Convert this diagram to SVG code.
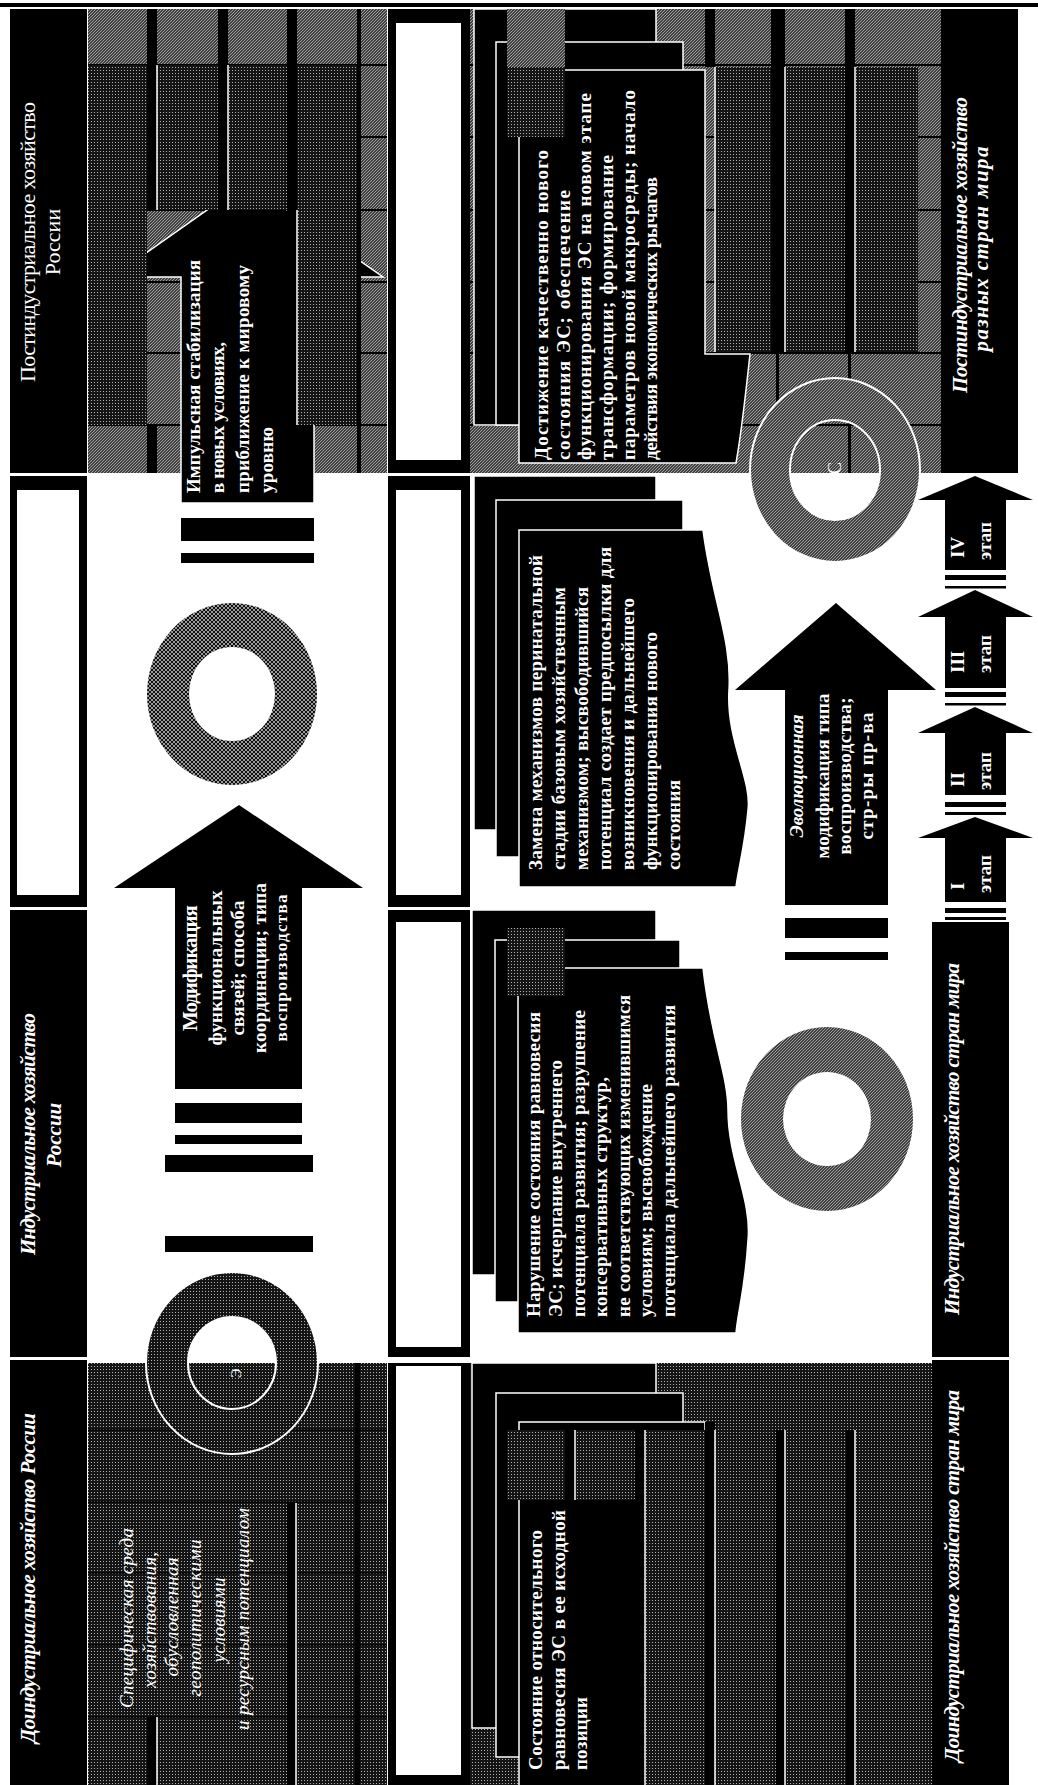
<svg xmlns="http://www.w3.org/2000/svg" width="1038" height="1785" viewBox="0 0 1038 1785">
<defs>
<pattern id="hatch" width="3" height="3" patternUnits="userSpaceOnUse">
<rect width="3" height="3" fill="#141414"/>
<path d="M-1,1 L1,-1 M0,3 L3,0 M2,4 L4,2" stroke="#a8a8a8" stroke-width="1.1"/>
</pattern>
<pattern id="xhatch" width="4" height="4" patternUnits="userSpaceOnUse">
<rect width="4" height="4" fill="#111"/>
<path d="M-1,1 L1,-1 M0,4 L4,0 M3,5 L5,3 M-1,3 L1,5 M0,0 L4,4 M3,-1 L5,1" stroke="#a8a8a8" stroke-width="0.9"/>
</pattern>
<pattern id="dots" width="3" height="3" patternUnits="userSpaceOnUse">
<rect width="3" height="3" fill="#151515"/>
<rect x="1" y="1" width="1" height="1" fill="#b0b0b0"/>
</pattern>
</defs>
<style>
.blk{fill:#000}
.wht{fill:#fff}
.box{fill:#000;stroke:#fff;stroke-width:1.5}
.wl{stroke:#fff;stroke-width:1.5;fill:none}
.gl{stroke:#000;stroke-width:2;fill:none}
.hat{fill:url(#hatch)}
.xh{fill:url(#xhatch)}
.dot{fill:url(#dots)}
text{fill:#fff;font-family:"Liberation Serif","DejaVu Serif",serif}
.bt{font-size:19px;font-weight:bold}
.hd{font-size:21px;font-weight:bold;font-style:italic}
.hr{font-size:22px}
.it{font-size:19px;font-style:italic}
.bi{font-size:19px;font-weight:bold;font-style:italic}
.st{font-size:19px;font-weight:bold}
.c{text-anchor:middle}
</style>

<rect x="0" y="3" width="1038" height="4" class="blk"/>

<!-- left header column -->
<g id="hdr-post-russia">
<rect x="10" y="9" width="77" height="464" class="blk"/>
<text class="hr c" transform="translate(35,242) rotate(-90)" textLength="280">Постиндустриальное хозяйство</text>
<text class="hr c" transform="translate(60,242) rotate(-90)">России</text>
</g>
<g id="frame-left">
<rect x="10" y="476" width="77" height="431" class="blk"/>
<rect x="17" y="490" width="62" height="405" class="wht"/>
</g>
<g id="hdr-ind-russia">
<rect x="10" y="910" width="77" height="447" class="blk"/>
<text class="hd c" transform="translate(35,1134) rotate(-90)" textLength="242">Индустриальное хозяйство</text>
<text class="hd c" transform="translate(61,1135) rotate(-90)">России</text>
</g>
<g id="hdr-preind-russia">
<rect x="10" y="1360" width="77" height="425" class="blk"/>
<text class="hd c" transform="translate(35,1578) rotate(-90)" textLength="330">Доиндустриальное хозяйство России</text>
</g>

<!-- column 3 frames -->
<g id="frame-c3-1"><rect x="388" y="9" width="82" height="464" class="blk"/><rect x="396" y="23" width="65" height="437" class="wht"/></g>
<g id="frame-c3-2"><rect x="388" y="476" width="82" height="431" class="blk"/><rect x="396" y="490" width="65" height="405" class="wht"/></g>
<g id="frame-c3-3"><rect x="388" y="910" width="82" height="447" class="blk"/><rect x="396" y="922" width="65" height="425" class="wht"/></g>
<g id="frame-c3-4"><rect x="388" y="1363" width="82" height="422" class="blk"/><rect x="396" y="1366" width="65" height="409" class="wht"/></g>

<!-- top-left region -->
<g id="region-top-left">
<rect x="88" y="9" width="299" height="464" class="hat"/>
<path class="gl" d="M88,65H387M88,137H387M88,210H387M88,282H387M88,353H387M88,425H387"/>
</g>

<!-- top-right region -->
<g id="region-top-right">
<rect x="470" y="9" width="471" height="464" class="hat"/>
<path class="gl" d="M470,65H941M470,137H941M470,210H941M470,282H941M470,353H941M470,425H941"/>
</g>

<!-- bottom regions -->
<g id="region-bottom-left">
<rect x="88" y="1363" width="299" height="422" class="dot"/>
<path class="gl" d="M88,1430H387M88,1502H387M88,1573H387M88,1645H387M88,1717H387" stroke-opacity="0.6"/>
</g>
<g id="region-bottom-right">
<rect x="470" y="1363" width="462" height="422" class="dot"/>
</g>

<g id="connectors">
<g id="arrow-impulse">
<polygon class="box" points="181,503 181,277 112,277 247,182 383,277 314,277 314,503"/>
<rect x="181" y="518" width="133" height="23" class="blk"/>
<rect x="181" y="553" width="133" height="10" class="blk"/>
</g>
<g id="arrow-modif">
<polygon class="blk" points="175,1089 175,888 114,888 239,805 363,888 302,888 302,1089"/>
<rect x="175" y="1103" width="127" height="20" class="blk"/>
<rect x="175" y="1135" width="127" height="9" class="blk"/>
<rect x="165" y="1155" width="148" height="17" class="blk"/>
<rect x="165" y="1236" width="148" height="16" class="blk"/>
</g>
<g id="arrow-evol">
<polygon class="blk" points="785,905 785,690 735,690 836,603 936,690 888,690 888,905"/>
<rect x="785" y="918" width="103" height="20" class="blk"/>
<rect x="785" y="952" width="103" height="8" class="blk"/>
</g>
<g id="arrow-stage-4">
<polygon class="blk" points="945,570 945,500 918,500 975,476 1033,500 1006,500 1006,570"/>
<rect x="945" y="575" width="61" height="5" class="blk"/><rect x="945" y="586" width="61" height="2.5" class="blk"/>
</g>
<g id="arrow-stage-3">
<polygon class="blk" points="945,688 945,617 918,617 975,590 1033,617 1006,617 1006,688"/>
<rect x="945" y="692" width="61" height="5" class="blk"/><rect x="945" y="703" width="61" height="2.5" class="blk"/>
</g>
<g id="arrow-stage-2">
<polygon class="blk" points="945,795 945,733 918,733 975,707 1033,733 1006,733 1006,795"/>
<rect x="945" y="802" width="61" height="5" class="blk"/><rect x="945" y="812" width="61" height="3" class="blk"/>
</g>
<g id="arrow-stage-1">
<polygon class="blk" points="945,902 945,838 918,838 975,817 1033,838 1006,838 1006,902"/>
<rect x="945" y="908" width="61" height="5" class="blk"/><rect x="945" y="917" width="61" height="3" class="blk"/>
</g>
</g>

<!-- grid overlay top-left -->
<g id="grid-top-left">
<rect x="88" y="65" width="59" height="360" class="dot"/>
<rect x="157" y="65" width="61" height="145" class="dot"/>
<rect x="228" y="65" width="59" height="145" class="dot"/>
<rect x="297" y="65" width="60" height="360" class="dot"/>
<rect x="147" y="9" width="10" height="201" class="blk"/>
<rect x="147" y="425" width="10" height="48" class="blk"/>
<rect x="218" y="9" width="10" height="201" class="blk"/>
<rect x="287" y="9" width="10" height="416" class="blk"/>
<rect x="357" y="9" width="4" height="464" class="blk"/>
<path class="wl" d="M157,65V210M228,65V210M297,210V425"/>
</g>

<!-- stacked box: Достижение -->
<g id="node-achieve">
<rect class="box" x="474" y="9" width="182" height="416"/>
<rect class="box" x="496" y="42" width="187" height="383"/>
<path class="box" d="M519,70H705V354H750C746,390 742,430 736,463H519Z"/>
<rect x="507" y="9" width="58" height="58" class="hat"/>
<rect x="507" y="67" width="58" height="70" class="dot"/>
<text class="bt" transform="translate(548,460) rotate(-90)" textLength="310">Достижение качественно нового</text>
<text class="bt" transform="translate(570,460) rotate(-90)" textLength="270">состояния ЭС; обеспечение</text>
<text class="bt" transform="translate(591,460) rotate(-90)" textLength="367">функционирования ЭС на новом этапе</text>
<text class="bt" transform="translate(613,460) rotate(-90)" textLength="305">трансформации; формирование</text>
<text class="bt" transform="translate(635,460) rotate(-90)" textLength="370">параметров новой макросреды; начало</text>
<text class="bt" transform="translate(657,460) rotate(-90)" textLength="283">действия экономических рычагов</text>
</g>

<g id="grid-top-right">
<rect x="715" y="67" width="56" height="285" class="dot"/>
<rect x="785" y="67" width="60" height="285" class="dot"/>
<rect x="855" y="67" width="63" height="285" class="dot"/>
<rect x="705" y="9" width="10" height="58" class="blk"/>
<rect x="771" y="9" width="14" height="343" class="blk"/>
<rect x="845" y="9" width="10" height="343" class="blk"/>
<rect x="776" y="352" width="3" height="121" class="blk"/>
<rect x="848" y="352" width="3" height="121" class="blk"/>
<path class="wl" d="M715,67V352M785,67V352M855,67V352"/>
</g>

<!-- rings -->
<g id="ring-s">
<path class="hat" stroke="#fff" stroke-width="2" fill-rule="evenodd" d="M750,470a85,92 0 1,0 170,0a85,92 0 1,0 -170,0ZM790,470a45,50 0 1,0 90,0a45,50 0 1,0 -90,0Z"/>
<text class="hr" style="font-size:18px" transform="translate(841,474) rotate(-90)">С</text>
</g>
<g id="ring-1">
<path class="xh" fill-rule="evenodd" d="M147,694a85,91 0 1,0 170,0a85,91 0 1,0 -170,0ZM189,694a43,47 0 1,0 86,0a43,47 0 1,0 -86,0Z"/>
</g>
<g id="ring-3">
<path class="hat" fill-rule="evenodd" d="M741,1119a86,92 0 1,0 172,0a86,92 0 1,0 -172,0ZM783,1119a44,47 0 1,0 88,0a44,47 0 1,0 -88,0Z"/>
</g>
<g id="ring-e">
<path class="dot" stroke="#fff" stroke-width="2" fill-rule="evenodd" d="M146,1363a86,91 0 1,0 172,0a86,91 0 1,0 -172,0ZM188,1363a44,46 0 1,0 88,0a44,46 0 1,0 -88,0Z"/>
<text class="hr" style="font-size:14px" transform="translate(241,1378) rotate(-90)">Э</text>
</g>

<!-- arrow texts -->
<g id="label-impulse">
<text class="bt" transform="translate(200,493) rotate(-90)" textLength="233">Импульсная стабилизация</text>
<text class="bt" transform="translate(224,493) rotate(-90)" textLength="151">в новых условиях,</text>
<text class="bt" transform="translate(249,493) rotate(-90)" textLength="228">приближение к мировому</text>
<text class="bt" transform="translate(273,493) rotate(-90)" textLength="66">уровню</text>
</g>
<g id="label-modif">
<text class="bt c" style="font-size:21px" transform="translate(197,968) rotate(-90)" textLength="126">Модификация</text>
<text class="bt c" transform="translate(222,968) rotate(-90)" textLength="155">функциональных</text>
<text class="bt c" transform="translate(244,968) rotate(-90)" textLength="135">связей; способа</text>
<text class="bt c" transform="translate(266,968) rotate(-90)" textLength="170">координации; типа</text>
<text class="bt c" style="font-size:17px" transform="translate(287,968) rotate(-90)" textLength="147">воспроизводства</text>
</g>
<g id="label-evol">
<text class="bi c" transform="translate(803,776) rotate(-90)" textLength="123">Эволюционная</text>
<text class="bt c" transform="translate(829,776) rotate(-90)" textLength="165">модификация типа</text>
<text class="bt c" transform="translate(851,776) rotate(-90)" textLength="157">воспроизводства;</text>
<text class="bt c" transform="translate(873,776) rotate(-90)" textLength="127">стр-ры пр-ва</text>
</g>
<g id="label-stages">
<text class="st" transform="translate(964,558) rotate(-90)">IV</text>
<text class="st" transform="translate(991,560) rotate(-90)">этап</text>
<text class="st" transform="translate(964,673) rotate(-90)">III</text>
<text class="st" transform="translate(991,673) rotate(-90)">этап</text>
<text class="st" transform="translate(964,787) rotate(-90)">II</text>
<text class="st" transform="translate(991,790) rotate(-90)">этап</text>
<text class="st" transform="translate(964,890) rotate(-90)">I</text>
<text class="st" transform="translate(991,893) rotate(-90)">этап</text>
</g>

<!-- stacked box: Замена -->
<g id="node-replace">
<rect class="box" x="474" y="476" width="182" height="354"/>
<rect class="box" x="496" y="500" width="187" height="357"/>
<path class="box" d="M519,530H703C712,600 732,640 729,690C726,740 752,780 748,810C745,845 738,870 736,887H519Z"/>
<text class="bt" transform="translate(542,870) rotate(-90)" textLength="315">Замена механизмов перинатальной</text>
<text class="bt" transform="translate(565,870) rotate(-90)" textLength="283">стадии базовым хозяйственным</text>
<text class="bt" transform="translate(588,870) rotate(-90)" textLength="283">механизмом; высвободившийся</text>
<text class="bt" transform="translate(611,870) rotate(-90)" textLength="323">потенциал создает предпосылки для</text>
<text class="bt" transform="translate(634,870) rotate(-90)" textLength="272">возникновения и дальнейшего</text>
<text class="bt" transform="translate(657,870) rotate(-90)" textLength="238">функционирования нового</text>
<text class="bt" transform="translate(680,870) rotate(-90)" textLength="90">состояния</text>
</g>

<!-- stacked box: Нарушение -->
<g id="node-break">
<rect class="box" x="472" y="910" width="184" height="365"/>
<rect class="box" x="495" y="940" width="185" height="362"/>
<path class="box" d="M518,968H703C711,1040 728,1075 728,1110C728,1160 752,1200 748,1240C745,1290 738,1310 736,1333H518Z"/>
<rect x="507" y="928" width="58" height="68" class="dot"/>
<text class="bt" transform="translate(540,1317) rotate(-90)" textLength="305">Нарушение состояния равновесия</text>
<text class="bt" transform="translate(562,1317) rotate(-90)" textLength="257">ЭС; исчерпание внутреннего</text>
<text class="bt" transform="translate(585,1317) rotate(-90)" textLength="307">потенциала развития; разрушение</text>
<text class="bt" transform="translate(607,1317) rotate(-90)" textLength="240">консервативных структур,</text>
<text class="bt" transform="translate(630,1317) rotate(-90)" textLength="322">не соответствующих изменившимся</text>
<text class="bt" transform="translate(652,1317) rotate(-90)" textLength="233">условиям; высвобождение</text>
<text class="bt" transform="translate(675,1317) rotate(-90)" textLength="312">потенциала дальнейшего развития</text>
</g>

<!-- stacked box: Состояние -->
<g id="node-state">
<rect class="box" x="472" y="1363" width="184" height="365"/>
<rect class="box" x="496" y="1393" width="187" height="364"/>
<rect class="box" x="519" y="1422" width="186" height="370"/>
<rect x="507" y="1430" width="58" height="70" class="dot"/>
<rect x="576" y="1430" width="59" height="70" class="dot"/>
<rect x="645" y="1430" width="60" height="355" class="dot"/>
<rect x="705" y="1422" width="10" height="363" class="blk"/>
<rect x="776" y="1430" width="9" height="355" class="blk"/>
<rect x="846" y="1430" width="9" height="355" class="blk"/>
<path class="wl" d="M575,1430V1500M645,1430V1785M715,1430V1785M785,1430V1785M855,1430V1785"/>
<text class="bt" transform="translate(542,1770) rotate(-90)" textLength="240">Состояние относительного</text>
<text class="bt" transform="translate(565,1770) rotate(-90)" textLength="260">равновесия ЭС в ее исходной</text>
<text class="bt" transform="translate(587,1770) rotate(-90)" textLength="73">позиции</text>
</g>

<!-- bottom-left grid and text -->
<g id="node-environment">
<rect x="147" y="1717" width="10" height="68" class="blk"/>
<rect x="287" y="1503" width="9" height="282" class="blk"/>
<rect x="355" y="1363" width="5" height="422" class="blk"/>
<path class="wl" d="M157,1717V1785M296,1503V1785"/>
<text class="it c" transform="translate(133,1618) rotate(-90)" textLength="180">Специфическая среда</text>
<text class="it c" transform="translate(156,1620) rotate(-90)" textLength="136">хозяйствования,</text>
<text class="it c" transform="translate(178,1617) rotate(-90)" textLength="119">обусловленная</text>
<text class="it c" transform="translate(201,1618) rotate(-90)" textLength="157">геополитическими</text>
<text class="it c" transform="translate(225,1620) rotate(-90)" textLength="85">условиями</text>
<text class="it c" transform="translate(249,1619) rotate(-90)" textLength="222">и ресурсным потенциалом</text>
</g>

<!-- right headers -->
<g id="hdr-post-world">
<rect x="941" y="9" width="77" height="464" class="blk"/>
<text class="hd c" transform="translate(967,245) rotate(-90)" textLength="296">Постиндустриальное хозяйство</text>
<text class="hd c" transform="translate(988,249) rotate(-90)" textLength="205">разных стран мира</text>
</g>
<g id="hdr-ind-world">
<rect x="932" y="922" width="77" height="435" class="blk"/>
<text class="hd c" transform="translate(959,1139) rotate(-90)" textLength="352">Индустриальное хозяйство стран мира</text>
</g>
<g id="hdr-preind-world">
<rect x="932" y="1360" width="77" height="425" class="blk"/>
<text class="hd c" transform="translate(959,1576) rotate(-90)" textLength="372">Доиндустриальное хозяйство стран мира</text>
</g>
</svg>
